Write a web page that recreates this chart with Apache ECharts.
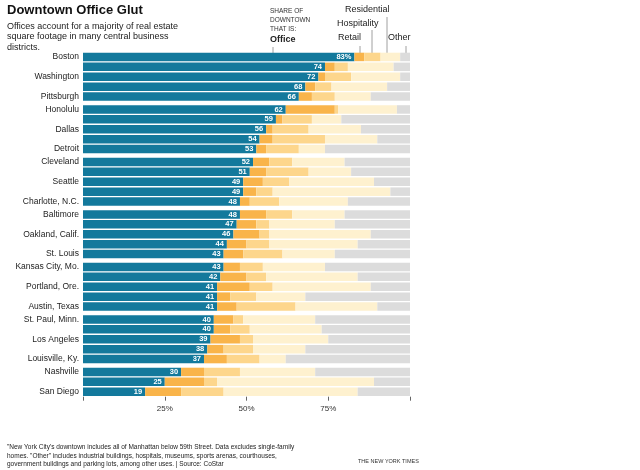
<!DOCTYPE html>
<html><head><meta charset="utf-8">
<script src="https://cdn.jsdelivr.net/npm/echarts@6/dist/echarts.min.js"></script>
<style>body{margin:0;background:#fff}#c{width:640px;height:470px}</style>
</head><body><div id="c"></div>
<script>
const groups = [
  ['Boston', 'San Francisco', 'Washington', 'Chicago', 'Pittsburgh'],
  ['Honolulu', 'Houston', 'Dallas', 'Denver', 'Detroit'],
  ['Cleveland', 'Cincinnati', 'Seattle', 'New York*', 'Charlotte, N.C.'],
  ['Baltimore', 'Raleigh, N.C.', 'Oakland, Calif.', 'Minneapolis', 'St. Louis'],
  ['Kansas City, Mo.', 'Philadelphia', 'Portland, Ore.', 'Fort Worth', 'Austin, Texas'],
  ['St. Paul, Minn.', 'Milwaukee', 'Los Angeles', 'Indianapolis', 'Louisville, Ky.'],
  ['Nashville', 'St. Petersburg, Fla.', 'San Diego']
];
// shares in percent, same city order as groups
const office =      [83, 74, 72, 68, 66, 62, 59, 56, 54, 53, 52, 51, 49, 49, 48, 48, 47, 46, 44, 43, 43, 42, 41, 41, 41, 40, 40, 39, 38, 37, 30, 25, 19];
const retail =      [3, 3, 2, 3, 4, 15, 2, 2, 4, 3, 5, 5, 6, 4, 3, 8, 6, 8, 6, 6, 5, 8, 10, 4, 6, 6, 5, 9, 5, 7, 7, 12, 11];
const hospitality = [5, 4, 8, 5, 7, 1, 9, 11, 16, 10, 7, 13, 8, 5, 9, 8, 4, 3, 7, 12, 7, 6, 7, 8, 18, 3, 6, 4, 9, 10, 11, 4, 13];
const residential = [6, 14, 15, 17, 11, 18, 9, 16, 16, 8, 16, 13, 26, 36, 21, 16, 20, 31, 27, 16, 19, 28, 30, 15, 25, 22, 22, 23, 16, 8, 23, 48, 41];
const other = office.map((v, i) => 100 - v - retail[i] - hospitality[i] - residential[i]);
const seriesDefs = [
  ['Office', office, '#13799c'],
  ['Retail', retail, '#f9b44a'],
  ['Hospitality', hospitality, '#fdd68c'],
  ['Residential', residential, '#fef1cf'],
  ['Other', other, '#dcdcdc']
];

const pitch = 9.9, gap = 3, top0 = 52;
const grid = [], xAxis = [], yAxis = [], series = [];
let t = top0, start = 0;
groups.forEach((cities, g) => {
  const h = cities.length * pitch;
  const last = g === groups.length - 1;
  grid.push({ left: 83, right: 230, top: t, height: h });
  xAxis.push({
    gridIndex: g, type: 'value', min: 0, max: 100, interval: 25,
    axisLine: { show: false }, splitLine: { show: false },
    axisTick: { show: last, length: 4, lineStyle: { color: '#666' } },
    axisLabel: { show: last, fontSize: 8, color: '#333', fontFamily: 'Arial',
      formatter: v => (v > 0 && v < 100) ? v + '%' : '' }
  });
  yAxis.push({
    gridIndex: g, type: 'category', data: cities, inverse: true,
    axisLine: { show: false }, axisTick: { show: false },
    axisLabel: { fontSize: 8.5, color: '#222', fontFamily: 'Arial', margin: 4 }
  });
  seriesDefs.forEach(([name, vals, color], s) => {
    series.push({
      name, type: 'bar', stack: 'g' + g, xAxisIndex: g, yAxisIndex: g,
      barCategoryGap: '14%', itemStyle: { color }, silent: true,
      data: vals.slice(start, start + cities.length),
      label: s === 0 ? {
        show: true, position: 'insideRight', color: '#fff', fontSize: 7.5,
        fontWeight: 'bold', fontFamily: 'Arial', distance: 3,
        formatter: p => (g === 0 && p.dataIndex === 0) ? p.value + '%' : p.value
      } : { show: false }
    });
  });
  t += h + gap;
  start += cities.length;
});

const txt = (x, y, text, style) => ({ type: 'text', left: x, top: y,
  style: Object.assign({ text, fontFamily: 'Arial', fill: '#222', fontSize: 9 }, style) });
const ln = (x, y1, y2) => ({ type: 'line', shape: { x1: x, y1, x2: x, y2 },
  style: { stroke: '#888', lineWidth: 0.8 } });

const chart = echarts.init(document.getElementById('c'));
chart.setOption({
  backgroundColor: '#fff', animation: false,
  grid, xAxis, yAxis, series,
  graphic: [
    txt(7, 4, 'Downtown Office Glut', { fontSize: 13, fontWeight: 'bold', fill: '#111' }),
    txt(7, 21, 'Offices account for a majority of real estate\nsquare footage in many central business\ndistricts.', { fontSize: 9, lineHeight: 10.5 }),
    txt(270, 7, 'SHARE OF\nDOWNTOWN\nTHAT IS:', { fontSize: 6.5, lineHeight: 9, fill: '#333' }),
    txt(270, 35, 'Office', { fontSize: 9, fontWeight: 'bold' }),
    txt(345, 5, 'Residential', { fontSize: 9 }),
    txt(337, 19, 'Hospitality', { fontSize: 9 }),
    txt(338, 33, 'Retail', { fontSize: 9 }),
    txt(388, 33, 'Other', { fontSize: 9 }),
    ln(273, 47, 53), ln(360, 46, 53), ln(372, 30, 53), ln(387, 17, 53), ln(406, 46, 53),
    txt(7, 443, '"New York City\'s downtown includes all of Manhattan below 59th Street. Data excludes single-family\nhomes. "Other" includes industrial buildings, hospitals, museums, sports arenas, courthouses,\ngovernment buildings and parking lots, among other uses. | Source: CoStar', { fontSize: 6.5, lineHeight: 8.5 }),
    txt(358, 458, 'THE NEW YORK TIMES', { fontSize: 5.5, fill: '#333' })
  ]
});
</script></body></html>
